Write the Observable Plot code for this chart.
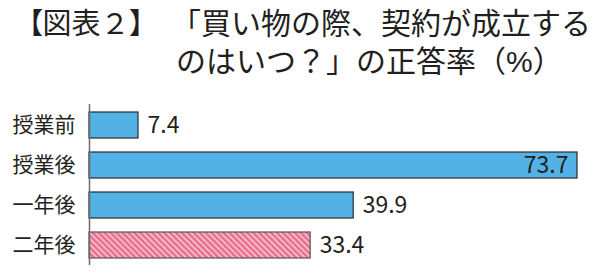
<!DOCTYPE html>
<html><head><meta charset="utf-8">
<script src="https://cdn.jsdelivr.net/npm/d3@7"></script>
<script src="https://cdn.jsdelivr.net/npm/@observablehq/plot@0.6"></script>
<style>
html,body{margin:0;padding:0;background:#fff;}
#wrap{width:600px;height:276px;position:relative;overflow:hidden;}
#title{position:relative;height:100px;font-family:"Liberation Sans","Noto Sans CJK JP",sans-serif;font-weight:400;color:#231f20;font-size:30px;line-height:38px;}
#title .l{position:absolute;white-space:nowrap;}
.p{font-feature-settings:'palt';}
.ind{display:inline-block;width:5px;}
#chart svg{display:block;}
</style></head>
<body><div id="wrap">
<div id="title">
<span class="l" id="t0" style="left:28px;top:5px;font-size:29px;"><span class="p">【</span>図表２<span class="p">】</span></span>
<div class="l" id="t1" style="left:171px;top:5px;">「買い物の際、契約が成立する<br><span class="ind"></span>のはいつ？」の正答率（%）</div>
</div>
<div id="chart"></div>
</div>
<script>
const categories = ["授業前", "授業後", "一年後", "二年後"];
const values = [7.4, 73.7, 39.9, 33.4];
const highlighted = ["二年後"];

const data = categories.map((c, i) => ({category: c, value: values[i]}));
const maxV = d3.max(values);

const chart = Plot.plot({
  width: 600,
  height: 176,
  marginLeft: 89,
  marginRight: 23,
  marginTop: 4,
  marginBottom: 11,
  style: {fontFamily: "Noto Sans CJK JP, sans-serif", fontSize: "21px", color: "#231f20", background: "#fff"},
  x: {axis: null, domain: [0, maxV]},
  y: {domain: categories, label: null, tickSize: 0, tickPadding: 14, paddingInner: 0.36, paddingOuter: 0.19},
  marks: [
    Plot.barX(data.filter(d => !highlighted.includes(d.category)), {x: "value", y: "category", fill: "#52b2e5", stroke: "#2b2b2b", strokeWidth: 1.2}),
    Plot.barX(data.filter(d => highlighted.includes(d.category)), {x: "value", y: "category", fill: "url(#hatch)", stroke: "#555", strokeWidth: 1.2}),
    Plot.text(data.filter(d => d.value <= maxV * 0.8), {x: "value", y: "category", text: d => d.value.toFixed(1), dx: 9, textAnchor: "start", fontSize: 23, fill: "#231f20"}),
    Plot.text(data.filter(d => d.value > maxV * 0.8), {x: "value", y: "category", text: d => d.value.toFixed(1), dx: -9, textAnchor: "end", fontSize: 23, fill: "#231f20"}),
    Plot.ruleX([0], {stroke: "#6b6b6b", strokeWidth: 1.5})
  ]
});

const ns = "http://www.w3.org/2000/svg";
const defs = document.createElementNS(ns, "defs");
defs.innerHTML = '<pattern id="hatch" patternUnits="userSpaceOnUse" width="4.2" height="4.2" patternTransform="rotate(-45)">' +
  '<rect width="4.2" height="4.2" fill="#f7bccb"/><rect width="2.4" height="4.2" fill="#e8708c"/></pattern>';
chart.insertBefore(defs, chart.firstChild);
document.getElementById("chart").appendChild(chart);
</script>
</body></html>
